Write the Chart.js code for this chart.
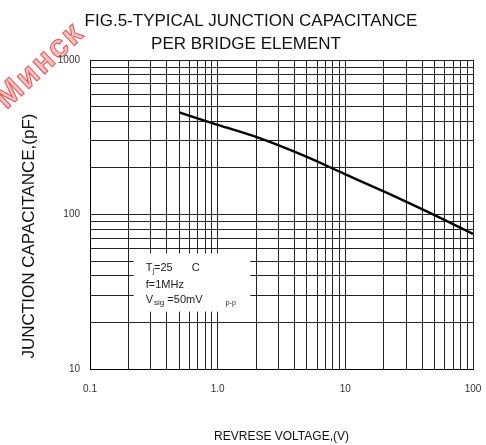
<!DOCTYPE html>
<html>
<head>
<meta charset="utf-8">
<script src="https://cdn.jsdelivr.net/npm/chart.js@4.4.1/dist/chart.umd.min.js"></script>
<style>
  html, body { margin: 0; padding: 0; background: #fff; }
</style>
</head>
<body>
<canvas id="capChart" width="486" height="445"></canvas>
<script>
// reverse voltage (V) and junction capacitance (pF)
const voltage = [0.5, 1, 2, 5, 10, 20, 50, 100];
const capacitance = [458, 380, 318, 236, 182, 141, 99, 75];

// log paper grid lines
const xGridValues = [0.1, 0.2, 0.3, 0.4, 0.5, 0.6, 0.7, 0.8, 0.9,
                     1, 2, 3, 4, 5, 6, 7, 8, 9,
                     10, 20, 30, 40, 50, 60, 70, 80, 90, 100];
const yGridValues = [10, 20, 30, 40, 50, 60, 70, 80, 90,
                     100, 200, 300, 400, 500, 600, 700, 800, 900, 1000];

// labelled ticks
const xLabelValues = [0.1, 1, 10, 100];
const xLabelTexts = ['0.1', '1.0', '10', '100'];
const yLabelValues = [10, 100, 1000];
const yLabelTexts = ['10', '100', '1000'];

const titleLines = ['FIG.5-TYPICAL JUNCTION CAPACITANCE', 'PER BRIDGE ELEMENT'];
const yTitle = 'JUNCTION CAPACITANCE,(pF)';
const xTitle = 'REVRESE VOLTAGE,(V)';

// test conditions box (in data units: volts / pF)
const conditionBox = { v: [0.22, 1.8], c: [23.5, 56] };

const FONT = "'Liberation Sans', Arial, sans-serif";

function labelFor(values, texts, v) {
    const i = values.findIndex(t => Math.abs(Math.log10(t) - Math.log10(v)) < 1e-6);
    return i >= 0 ? texts[i] : '';
}

// draws a text piece and returns where it ends
function put(ctx, text, x, y, size) {
    ctx.font = `${size}px ${FONT}`;
    ctx.fillText(text, x, y);
    return x + ctx.measureText(text).width;
}

const sheetDecor = {
    id: 'sheetDecor',
    beforeDraw(chart) {
        // red stamp in the corner
        const { ctx } = chart;
        ctx.save();
        ctx.translate(40, 66);
        ctx.rotate(-0.76);
        ctx.font = `bold 32px ${FONT}`;
        ctx.letterSpacing = '2px';
        ctx.textAlign = 'center';
        ctx.textBaseline = 'middle';
        ctx.fillStyle = 'rgba(245, 120, 120, 0.45)';
        ctx.strokeStyle = 'rgba(230, 40, 40, 0.8)';
        ctx.lineWidth = 1;
        ctx.fillText('Минск', 0, 0);
        ctx.strokeText('Минск', 0, 0);
        ctx.restore();
    },
    beforeDatasetsDraw(chart) {
        const { ctx, scales: { x, y } } = chart;
        const l = x.getPixelForValue(conditionBox.v[0]);
        const r = x.getPixelForValue(conditionBox.v[1]);
        const t = y.getPixelForValue(conditionBox.c[1]);
        const b = y.getPixelForValue(conditionBox.c[0]);
        ctx.save();
        ctx.fillStyle = '#fff';
        ctx.fillRect(l, t, r - l, b - t);

        ctx.fillStyle = '#222';
        ctx.textBaseline = 'middle';
        ctx.textAlign = 'left';
        const tx = l + 12;
        let cx = put(ctx, 'T', tx, t + 15, 11);
        cx = put(ctx, 'j', cx, t + 18, 7);
        put(ctx, '=25', cx, t + 15, 11);
        put(ctx, 'C', tx + 46, t + 15, 11);
        put(ctx, 'f=1MHz', tx, t + 32, 11);
        cx = put(ctx, 'V', tx, t + 47, 11);
        cx = put(ctx, 'sig', cx + 1, t + 49, 8);
        put(ctx, ' =50mV', cx, t + 47, 11);
        put(ctx, 'p-p', tx + 80, t + 50, 7);
        ctx.restore();
    },
    afterDraw(chart) {
        const { ctx } = chart;
        ctx.save();
        ctx.fillStyle = '#111';
        ctx.textAlign = 'center';
        ctx.textBaseline = 'middle';
        ctx.font = `17px ${FONT}`;
        ctx.fillText(titleLines[0], 251, 21);
        ctx.fillText(titleLines[1], 246, 44);

        ctx.translate(29, 236);
        ctx.rotate(-Math.PI / 2);
        ctx.font = `17px ${FONT}`;
        ctx.fillText(yTitle, 0, 0);
        ctx.restore();
    }
};

new Chart(document.getElementById('capChart'), {
    type: 'line',
    data: {
        datasets: [{
            data: voltage.map((v, i) => ({ x: v, y: capacitance[i] })),
            borderColor: '#000',
            borderWidth: 2.4,
            pointRadius: 0,
            cubicInterpolationMode: 'monotone',
            fill: false
        }]
    },
    options: {
        responsive: false,
        animation: false,
        devicePixelRatio: 1,
        layout: { padding: { top: 60, right: 13, left: 0, bottom: 0 } },
        plugins: {
            legend: { display: false },
            tooltip: { enabled: false },
            title: { display: false }
        },
        scales: {
            x: {
                type: 'logarithmic',
                min: 0.1,
                max: 100,
                afterBuildTicks: s => { s.ticks = xGridValues.map(v => ({ value: v })); },
                afterFit: s => { s.height = 76; },
                ticks: {
                    autoSkip: false,
                    maxRotation: 0,
                    padding: 2,
                    color: '#333',
                    font: { family: FONT, size: 10 },
                    callback: v => labelFor(xLabelValues, xLabelTexts, v)
                },
                grid: { color: '#222', lineWidth: 1, drawTicks: true, tickLength: 12, tickColor: 'rgba(0,0,0,0)' },
                border: { color: '#000', width: 1 },
                title: {
                    display: true,
                    text: xTitle,
                    color: '#111',
                    font: { family: FONT, size: 12 },
                    padding: { top: 0, bottom: 1 }
                }
            },
            y: {
                type: 'logarithmic',
                min: 10,
                max: 1000,
                afterBuildTicks: s => { s.ticks = yGridValues.map(v => ({ value: v })); },
                afterFit: s => { s.width = 90; },
                ticks: {
                    autoSkip: false,
                    padding: 10,
                    color: '#333',
                    font: { family: FONT, size: 10 },
                    callback: v => labelFor(yLabelValues, yLabelTexts, v)
                },
                grid: { color: '#222', lineWidth: 1, drawTicks: false },
                border: { color: '#000', width: 1 }
            }
        }
    },
    plugins: [sheetDecor]
});
</script>
</body>
</html>
